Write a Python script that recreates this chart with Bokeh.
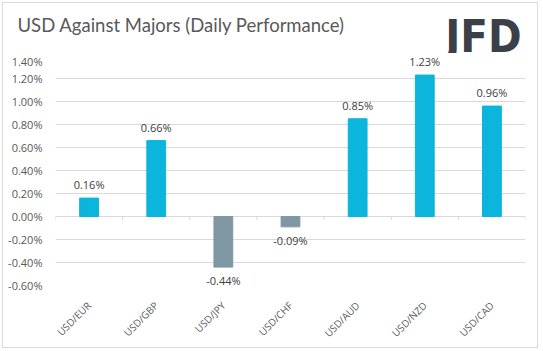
import math
from bokeh.plotting import figure
from bokeh.layouts import column
from bokeh.models import (ColumnDataSource, FixedTicker, PrintfTickFormatter, Label, LabelSet)
from bokeh.core.properties import value
from bokeh.embed import file_html
from bokeh.resources import INLINE

# ---- data ----
pairs = ["USD/EUR", "USD/GBP", "USD/JPY", "USD/CHF", "USD/AUD", "USD/NZD", "USD/CAD"]
changes = [0.16, 0.66, -0.44, -0.09, 0.85, 1.23, 0.96]
y_ticks = [-0.6, -0.4, -0.2, 0.0, 0.2, 0.4, 0.6, 0.8, 1.0, 1.2, 1.4]
title_text = "USD Against Majors (Daily Performance)"
logo_text = "JFD"

POS = "#0BB5DC"
NEG = "#7F97A2"
FONT = "Open Sans"

pos_src = ColumnDataSource(dict(
    x=[c for c, v in zip(pairs, changes) if v >= 0],
    top=[v for v in changes if v >= 0],
    lab=["%.2f%%" % v for v in changes if v >= 0],
))
neg_src = ColumnDataSource(dict(
    x=[c for c, v in zip(pairs, changes) if v < 0],
    top=[v for v in changes if v < 0],
    lab=["%.2f%%" % v for v in changes if v < 0],
))

# ---- header (title + logo) ----
W = 534
head = figure(width=W, height=50, x_range=(0, 1), y_range=(0, 1),
              x_axis_type=None, y_axis_type=None,
              output_backend="svg", toolbar_location=None, min_border=0)
head.grid.visible = False
head.outline_line_color = None
head.add_layout(Label(x=14, y=29, x_units="screen", y_units="screen", text=title_text,
                      text_font="Lato", text_font_size="18.5px", text_color="#595959",
                      text_baseline="alphabetic"))
head.add_layout(Label(x=518, y=17, x_units="screen", y_units="screen", text=logo_text,
                      text_font="DejaVu Sans Condensed", text_font_style="bold",
                      text_font_size="45px", text_color="#3B4048", text_align="right",
                      text_baseline="alphabetic"))

# ---- chart ----
p = figure(x_range=pairs, y_range=(y_ticks[0], y_ticks[-1]), width=W, height=294,
           output_backend="svg", toolbar_location=None,
           min_border_left=52, min_border_right=12, min_border_top=2, min_border_bottom=59)
p.outline_line_color = None
p.background_fill_color = "white"
p.border_fill_color = "white"

for fig in (head, p):
    try:
        fig.frame_align = False
    except Exception:
        pass

p.vbar(x="x", top="top", bottom=0, width=0.28, color=POS, source=pos_src)
p.vbar(x="x", top="top", bottom=0, width=0.28, color=NEG, source=neg_src)

# small category tick marks on the zero line
bounds = list(range(len(pairs) + 1))
p.segment(x0=bounds, x1=bounds, y0=[0] * len(bounds), y1=[-0.03] * len(bounds),
          line_color="#d9d9d9", line_width=1)

p.add_layout(LabelSet(x="x", y="top", text="lab", source=pos_src, text_align="center",
                      text_baseline="bottom", y_offset=6, text_font=value(FONT),
                      text_font_size="11px", text_color="#404040"))
p.add_layout(LabelSet(x="x", y="top", text="lab", source=neg_src, text_align="center",
                      text_baseline="top", y_offset=-6, text_font=value(FONT),
                      text_font_size="11px", text_color="#404040"))

p.yaxis.ticker = FixedTicker(ticks=y_ticks)
p.yaxis.formatter = PrintfTickFormatter(format="%.2f%%")
p.ygrid.ticker = FixedTicker(ticks=y_ticks)
p.ygrid.grid_line_color = "#d9d9d9"
p.xgrid.grid_line_color = None

for ax in (p.xaxis, p.yaxis):
    ax.axis_line_color = None
    ax.major_tick_line_color = None
    ax.minor_tick_line_color = None
    ax.major_label_text_font = FONT
    ax.major_label_text_color = "#595959"
p.yaxis.major_label_text_font_size = "11px"
p.xaxis.major_label_text_font_size = "10px"
p.yaxis.major_label_standoff = 7
p.xaxis.major_label_standoff = 12
p.xaxis.major_label_orientation = math.pi / 4

layout = column(head, p, spacing=0,
                styles={"border": "1px solid #d9d9d9", "margin-left": "2px",
                        "margin-top": "2px", "background": "white"})

open("out.html", "w").write(file_html(layout, INLINE))
